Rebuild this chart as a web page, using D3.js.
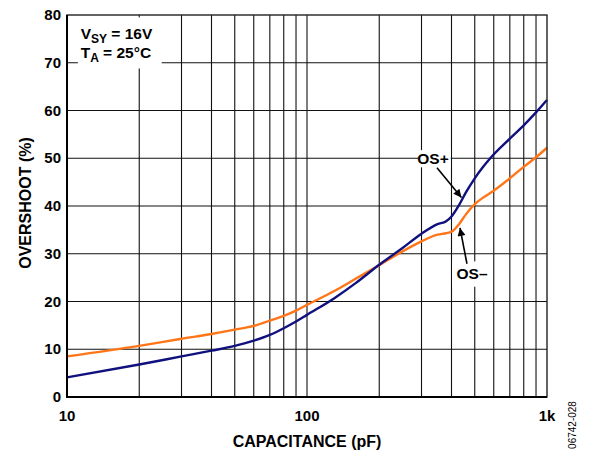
<!DOCTYPE html>
<html>
<head>
<meta charset="utf-8">
<script src="https://cdn.jsdelivr.net/npm/d3@7"></script>
<style>
  html, body { margin: 0; padding: 0; background: #fff; }
  svg { display: block; font-family: 'Liberation Sans', Arial, sans-serif; }
</style>
</head>
<body>
<svg id="chart" width="597" height="457"></svg>
<script>
// capacitance (pF)
const capacitance = [10, 20, 30, 40, 50, 60, 70, 80, 90, 100, 130, 160, 200, 250, 300, 350, 380, 400, 430, 460, 500, 540, 580, 700, 800, 900, 1000]
const osPlus  = [4.1, 6.8, 8.5, 9.7, 10.7, 11.8, 13.0, 14.4, 15.8, 17.2, 20.7, 23.9, 27.7, 31.2, 34.2, 36.2, 36.8, 37.8, 40.2, 42.9, 45.8, 48.1, 50.0, 54.1, 56.9, 59.6, 62.2]
const osMinus = [8.5, 10.7, 12.2, 13.2, 14.1, 14.9, 16.0, 17.0, 18.1, 19.3, 22.2, 24.8, 27.6, 30.5, 32.6, 34.0, 34.3, 34.6, 36.2, 38.3, 40.4, 41.7, 42.7, 45.8, 48.2, 50.2, 52.2]
const xTicks = [10, 100, 1000]
const xTickLabels = ['10', '100', '1k']
const yTicks = [0, 10, 20, 30, 40, 50, 60, 70, 80]

const margin = { left: 67, right: 50, top: 15, bottom: 60 }
const size = { width: 480, height: 382 }
const blue = '#10107e'
const orange = '#ff7518'

const svg = d3.select('#chart')

const x = d3.scaleLog()
    .domain([10, 1000])
    .range([margin.left, margin.left + size.width])

const y = d3.scaleLinear()
    .domain([0, 80])
    .range([margin.top + size.height, margin.top])

// grid: every decade step plus the major lines
const xGrid = []
;[10, 100].forEach(dec => { for (let k = 2; k <= 10; k++) xGrid.push(dec * k) })

svg.append('g')
    .selectAll('line')
    .data(xGrid.filter(d => d < 1000))
    .enter()
    .append('line')
    .attr('x1', d => x(d)).attr('x2', d => x(d))
    .attr('y1', y(0)).attr('y2', y(80))
    .style('stroke', '#111')
    .style('stroke-width', 1.1)

svg.append('g')
    .selectAll('line')
    .data(yTicks.filter(d => d > 0 && d < 80))
    .enter()
    .append('line')
    .attr('x1', x(10)).attr('x2', x(1000))
    .attr('y1', d => y(d)).attr('y2', d => y(d))
    .style('stroke', '#111')
    .style('stroke-width', 1.1)

// white boxes behind the annotations
const boxes = [
    { x0: 11.1, x1: 24.8, y0: 79.5, y1: 68.8 },
    { x0: 290, x1: 397, y0: 51.7, y1: 48.1 },
    { x0: 402, x1: 590, y0: 28.4, y1: 23.1 }
]
svg.append('g')
    .selectAll('rect')
    .data(boxes)
    .enter()
    .append('rect')
    .attr('x', d => x(d.x0))
    .attr('y', d => y(d.y0))
    .attr('width', d => x(d.x1) - x(d.x0))
    .attr('height', d => y(d.y1) - y(d.y0))
    .style('fill', '#fff')

const line = d3.line()
    .x(d => x(d[0]))
    .y(d => y(d[1]))
    .curve(d3.curveMonotoneX)

svg.append('path')
    .attr('d', line(d3.zip(capacitance, osMinus)))
    .style('fill', 'none')
    .style('stroke', orange)
    .style('stroke-width', 2.4)

svg.append('path')
    .attr('d', line(d3.zip(capacitance, osPlus)))
    .style('fill', 'none')
    .style('stroke', blue)
    .style('stroke-width', 2.4)

// frame
svg.append('rect')
    .attr('x', x(10)).attr('y', y(80))
    .attr('width', size.width).attr('height', size.height)
    .style('fill', 'none')
    .style('stroke', '#222')
    .style('stroke-width', 1.4)

svg.append('line')
    .attr('x1', x(10)).attr('x2', x(10))
    .attr('y1', y(0) + 1).attr('y2', y(80))
    .style('stroke', '#000').style('stroke-width', 2)
svg.append('line')
    .attr('x1', x(10)).attr('x2', x(1000))
    .attr('y1', y(0)).attr('y2', y(0))
    .style('stroke', '#000').style('stroke-width', 2)

// tick labels
svg.append('g')
    .selectAll('text')
    .data(yTicks)
    .enter()
    .append('text')
    .attr('x', margin.left - 6)
    .attr('y', d => y(d) + 5)
    .attr('text-anchor', 'end')
    .style('font-size', '15px')
    .style('font-weight', 'bold')
    .text(d => d)

svg.append('g')
    .selectAll('text')
    .data(xTicks)
    .enter()
    .append('text')
    .attr('x', d => x(d))
    .attr('y', y(0) + 24)
    .attr('text-anchor', 'middle')
    .style('font-size', '15px')
    .style('font-weight', 'bold')
    .text((d, i) => xTickLabels[i])

svg.append('text')
    .attr('x', x(100))
    .attr('y', y(0) + 50)
    .attr('text-anchor', 'middle')
    .style('font-size', '16px')
    .style('font-weight', 'bold')
    .text('CAPACITANCE (pF)')

svg.append('text')
    .attr('transform', `translate(31,${y(40) - 3}) rotate(-90)`)
    .attr('text-anchor', 'middle')
    .style('font-size', '16px')
    .style('font-weight', 'bold')
    .text('OVERSHOOT (%)')

svg.append('text')
    .attr('transform', `translate(576,${y(0) + 28}) rotate(-90)`)
    .attr('text-anchor', 'middle')
    .style('font-size', '10px')
    .text('06742-028')

// conditions box
const cond = svg.append('text')
    .attr('x', x(11.4))
    .attr('y', y(74.9))
    .style('font-size', '15.5px')
    .style('font-weight', 'bold')
cond.append('tspan').text('V')
cond.append('tspan').attr('dy', 4).style('font-size', '12px').text('SY')
cond.append('tspan').attr('dy', -4).text(' = 16V')

const cond2 = svg.append('text')
    .attr('x', x(11.4))
    .attr('y', y(70.9))
    .style('font-size', '15.5px')
    .style('font-weight', 'bold')
cond2.append('tspan').text('T')
cond2.append('tspan').attr('dy', 4).style('font-size', '12px').text('A')
cond2.append('tspan').attr('dy', -4).text(' = 25°C')

// curve labels and arrows
const notes = [
    { label: 'OS+', tx: 335, ty: 49.9, from: [348, 48.0], to: [440, 41.8] },
    { label: 'OS\u2013', tx: 487, ty: 25.8, from: [464, 27.9], to: [434, 35.4] }
]

svg.append('defs')
    .append('marker')
    .attr('id', 'head')
    .attr('viewBox', '0 0 10 10')
    .attr('refX', 10).attr('refY', 5)
    .attr('markerWidth', 12).attr('markerHeight', 8)
    .attr('markerUnits', 'userSpaceOnUse')
    .attr('orient', 'auto')
    .append('path')
    .attr('d', 'M0,0L10,5L0,10Z')
    .style('fill', '#000')

notes.forEach(n => {
    svg.append('text')
        .attr('x', x(n.tx))
        .attr('y', y(n.ty) + 5.5)
        .attr('text-anchor', 'middle')
        .style('font-size', '15.5px')
        .style('font-weight', 'bold')
        .text(n.label)
    svg.append('line')
        .attr('x1', x(n.from[0])).attr('y1', y(n.from[1]))
        .attr('x2', x(n.to[0])).attr('y2', y(n.to[1]))
        .attr('marker-end', 'url(#head)')
        .style('stroke', '#000')
        .style('stroke-width', 1.6)
})
</script>
</body>
</html>
